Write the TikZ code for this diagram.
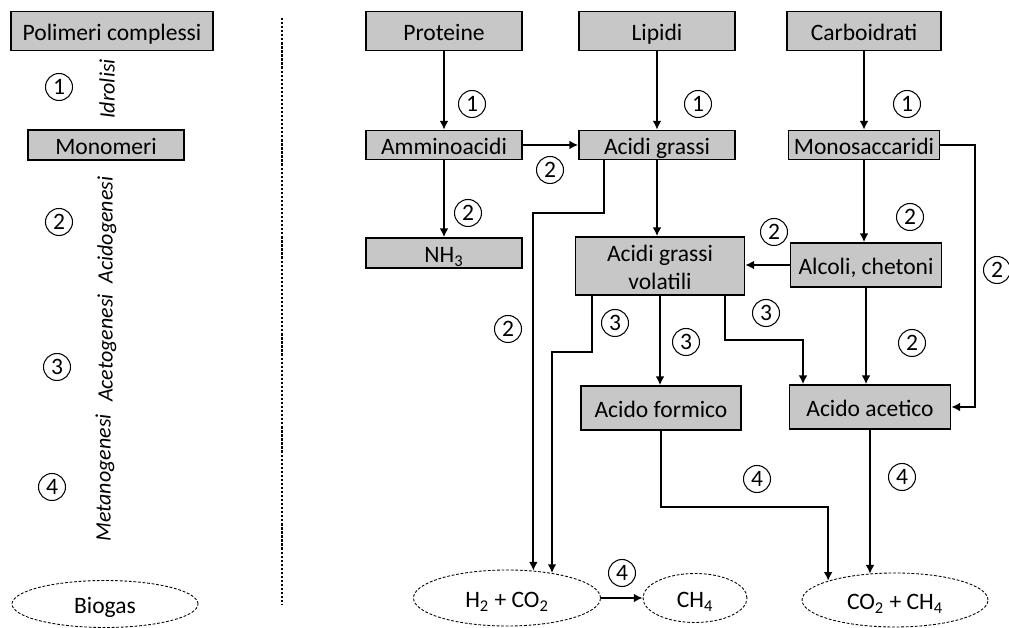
\documentclass[tikz,border=0pt]{standalone}
\usepackage{fontspec}
\setmainfont{Carlito}
\usetikzlibrary{shapes,arrows.meta,positioning}
\tikzstyle{stage} = [rectangle, draw, line width=0.9pt, fill=black!22,
    text centered, inner sep=0pt, text height=10.8pt, text depth=0pt]
\tikzstyle{stagetwo} = [rectangle, draw, line width=0.9pt, fill=black!22,
    align=center, inner sep=0pt, text height=26.6pt, text depth=0pt]
\tikzstyle{gas} = [ellipse, draw, dash pattern=on 1.6pt off 1pt, line width=0.5pt,
    inner sep=0pt, text height=10.8pt, text depth=0pt]
\tikzstyle{phase} = [circle, draw, line width=0.6pt, minimum size=0.54cm, inner sep=0pt]
\tikzstyle{phasename} = [rotate=90, font=\fontsize{12.5}{15}\selectfont\itshape]
\tikzstyle{line} = [draw, line width=1.1pt, -{Latex[length=5pt,width=5pt]}]

\begin{document}
\begin{tikzpicture}[font=\fontsize{13.4}{16}\selectfont]
 \useasboundingbox (0,0) rectangle (20.18,12.56);
 % legend on the left
 \node at (2.24,11.94) [stage, minimum width=4.04cm, minimum height=0.78cm] (polimeri) {Polimeri complessi};
 \node at (2.12,9.66) [stage, minimum width=3.12cm, minimum height=0.60cm] (monomeri) {Monomeri};
 \node at (2.10,0.48) [gas, minimum width=3.72cm, minimum height=0.94cm] (biogas) {Biogas};
 \node at (1.18,10.82) [phase] (lf1) {1};
 \node at (1.18,8.12) [phase] (lf2) {2};
 \node at (1.14,5.22) [phase] (lf3) {3};
 \node at (1.04,2.82) [phase] (lf4) {4};
 \node at (2.14,10.78) [phasename] (idrolisi) {Idrolisi};
 \node at (2.14,7.96) [phasename] (acidogenesi) {Acidogenesi};
 \node at (2.14,5.60) [phasename] (acetogenesi) {Acetogenesi};
 \node at (2.10,3.00) [phasename] (metanogenesi) {Metanogenesi};
 \coordinate (septop) at (5.64,12.20);
 \coordinate (sepbot) at (5.64,0.46);
 \draw [densely dotted, line width=1.3pt] (septop) -- (sepbot);

 % substrates
 \node at (8.88,11.94) [stage, minimum width=3.12cm, minimum height=0.78cm] (proteine) {Proteine};
 \node [stage, minimum width=3.12cm, minimum height=0.78cm, right of=proteine, node distance=4.26cm] (lipidi) {Lipidi};
 \node at (17.28,11.94) [stage, minimum width=3.08cm, minimum height=0.78cm] (carbo) {Carboidrati};
 \node [stage, minimum width=3.12cm, minimum height=0.58cm, below of=proteine, node distance=2.28cm] (ammino) {Amminoacidi};
 \node [stage, minimum width=3.12cm, minimum height=0.58cm, below of=lipidi, node distance=2.28cm] (grassi) {Acidi grassi};
 \node [stage, minimum width=3.02cm, minimum height=0.58cm, below of=carbo, node distance=2.28cm] (mono) {Monosaccaridi};
 \node [stage, minimum width=3.12cm, minimum height=0.60cm, below of=ammino, node distance=2.16cm] (nh3) {NH\textsubscript{3}};
 \node at (13.20,7.24) [stagetwo, minimum width=3.38cm, minimum height=1.16cm] (volatili) {Acidi grassi\\volatili};
 \node at (17.32,7.26) [stage, minimum width=3.02cm, minimum height=0.88cm] (alcoli) {Alcoli, chetoni};
 \node at (13.22,4.40) [stage, minimum width=3.20cm, minimum height=0.88cm] (formico) {Acido formico};
 \node at (17.40,4.42) [stage, minimum width=3.22cm, minimum height=0.88cm] (acetico) {Acido acetico};
 \node at (10.14,0.60) [gas, minimum width=3.74cm, minimum height=1.12cm] (h2co2) {H\textsubscript{2} + CO\textsubscript{2}};
 \node at (13.90,0.60) [gas, minimum width=2.08cm, minimum height=0.98cm] (ch4) {CH\textsubscript{4}};
 \node at (17.90,0.56) [gas, minimum width=3.72cm, minimum height=1.08cm] (co2ch4) {CO\textsubscript{2} + CH\textsubscript{4}};

 % phase numbers
 \node at (9.44,10.48) [phase] (n1a) {1};
 \node at (13.96,10.48) [phase] (n1b) {1};
 \node at (18.14,10.48) [phase] (n1c) {1};
 \node at (11.00,9.16) [phase] (n2a) {2};
 \node at (9.36,8.30) [phase] (n2b) {2};
 \node at (15.48,7.92) [phase] (n2c) {2};
 \node at (18.20,8.22) [phase] (n2d) {2};
 \node at (19.94,7.16) [phase] (n2e) {2};
 \node at (10.16,5.98) [phase] (n2f) {2};
 \node at (18.24,5.70) [phase] (n2g) {2};
 \node at (12.30,6.10) [phase] (n3a) {3};
 \node at (13.72,5.72) [phase] (n3b) {3};
 \node at (15.32,6.30) [phase] (n3c) {3};
 \node at (15.14,2.98) [phase] (n4a) {4};
 \node at (18.04,3.02) [phase] (n4b) {4};
 \node at (12.44,1.10) [phase] (n4c) {4};

 \path [line] (proteine) -- (ammino);
 \path [line] (lipidi) -- (grassi);
 \path [line] (carbo) -- (mono);
 \path [line] (ammino) -- (grassi);
 \path [line] (ammino) -- (nh3);
 \path [line] (grassi) -- (grassi |- volatili.north);
 \path [line] ([xshift=-1.06cm]grassi.south) -- ++(0,-1.06) -| (h2co2.46);
 \path [line] (mono) -- (mono |- alcoli.north);
 \path [line] (mono.east) -- ++(0.70,0) |- (acetico.east);
 \path [line] (alcoli.west) -- (alcoli.west -| volatili.east);
 \path [line] (alcoli) -- (alcoli |- acetico.north);
 \path [line] ([xshift=-1.36cm]volatili.south) -- ++(0,-1.12) -| (h2co2.29);
 \path [line] (volatili) -- (volatili |- formico.north);
 \path [line] ([xshift=1.30cm]volatili.south) -- ++(0,-0.88) -| ([xshift=-1.34cm]acetico.north);
 \path [line] (formico.south) -- ++(0,-1.52) -| (co2ch4.164);
 \path [line] (acetico) -- (acetico |- co2ch4.136);
 \path [line] (h2co2) -- (ch4);
\end{tikzpicture}
\end{document}
